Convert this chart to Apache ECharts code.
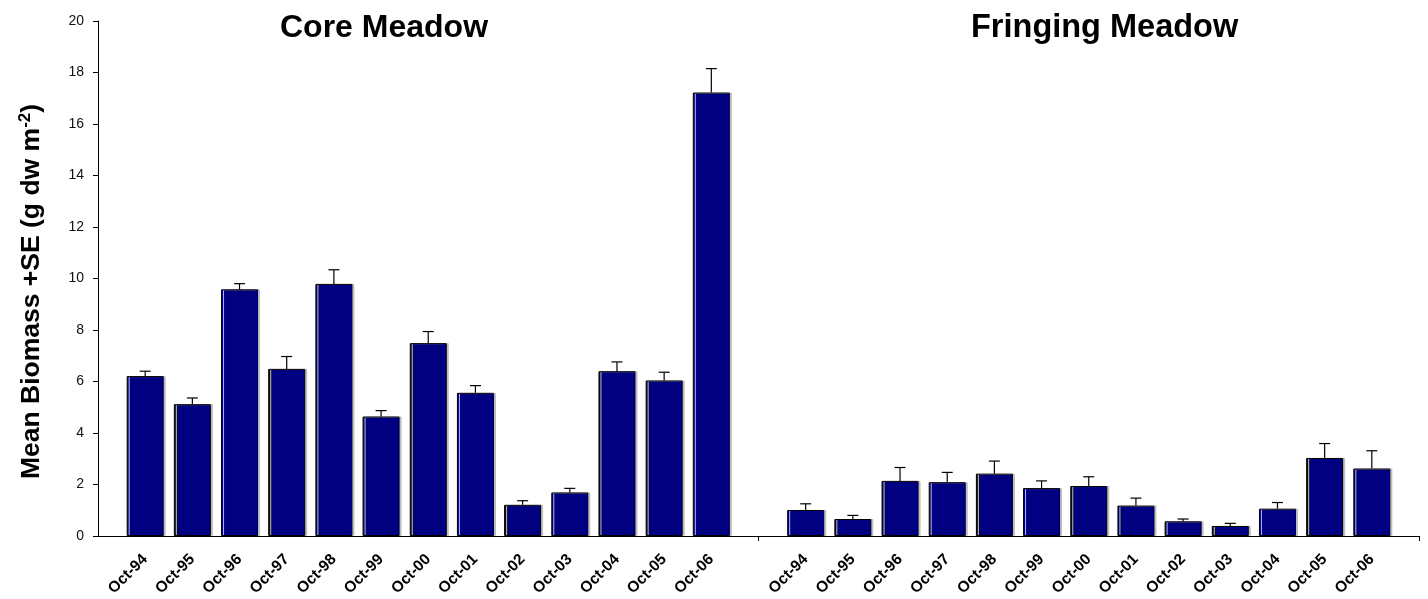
<!DOCTYPE html>
<html>
<head>
<meta charset="utf-8">
<script src="https://cdn.jsdelivr.net/npm/echarts@6/dist/echarts.min.js"></script>
<style>
  html, body { margin: 0; padding: 0; background: #fff; }
  #chart { width: 1428px; height: 599px; }
</style>
</head>
<body>
<div id="chart"></div>
<script>
// values
const years = ['Oct-94', 'Oct-95', 'Oct-96', 'Oct-97', 'Oct-98', 'Oct-99', 'Oct-00',
  'Oct-01', 'Oct-02', 'Oct-03', 'Oct-04', 'Oct-05', 'Oct-06'];
const coreMean = [6.21, 5.12, 9.58, 6.49, 9.79, 4.64, 7.49, 5.56, 1.21, 1.69, 6.40, 6.04, 17.22];
const coreSE = [0.19, 0.24, 0.22, 0.48, 0.55, 0.23, 0.45, 0.28, 0.16, 0.16, 0.36, 0.32, 0.93];
const fringeMean = [1.01, 0.66, 2.14, 2.09, 2.42, 1.86, 1.94, 1.18, 0.57, 0.39, 1.06, 3.03, 2.62];
const fringeSE = [0.24, 0.14, 0.52, 0.38, 0.49, 0.28, 0.36, 0.29, 0.09, 0.10, 0.24, 0.56, 0.69];
const yTicks = [0, 2, 4, 6, 8, 10, 12, 14, 16, 18, 20];

// axis points: blank, core years, blank (group divider), fringing years, blank
const categories = [''].concat(years, [''], years, ['']);
const means = [null].concat(coreMean, [null], fringeMean, [null]);
const ses = [null].concat(coreSE, [null], fringeSE, [null]);
const errData = means.map((m, i) => m == null ? null : [i, m, m + ses[i]]).filter(d => d);

const chart = echarts.init(document.getElementById('chart'));
chart.setOption({
  animation: false,
  textStyle: { fontFamily: 'Arial, "Liberation Sans", sans-serif' },
  title: [
    { text: 'Core Meadow', left: 275, top: 7,
      textStyle: { fontSize: 32, fontWeight: 'bold', color: '#000' } },
    { text: 'Fringing Meadow', left: 966, top: 7,
      textStyle: { fontSize: 32.5, fontWeight: 'bold', color: '#000' } }
  ],
  grid: { left: 98, right: 9, top: 21, bottom: 63 },
  xAxis: {
    type: 'category',
    data: categories,
    boundaryGap: false,
    axisLine: { lineStyle: { color: '#000', width: 1 } },
    axisTick: {
      show: true,
      interval: (idx) => idx === 14 || idx === 28,
      length: 5,
      lineStyle: { color: '#000' }
    },
    axisLabel: {
      interval: 0,
      rotate: 45,
      margin: 21,
      padding: [14, 0, 0, 0],
      color: '#000',
      fontSize: 15.5,
      fontWeight: 'bold'
    }
  },
  yAxis: {
    type: 'value',
    min: yTicks[0],
    max: yTicks[yTicks.length - 1],
    interval: 2,
    name: 'Mean Biomass +SE (g dw m{sup|-2})',
    nameLocation: 'middle',
    nameGap: 52,
    nameTextStyle: {
      fontSize: 26.5,
      fontWeight: 'bold',
      color: '#000',
      padding: [0, 26, 0, 0],
      rich: { sup: { fontSize: 17, fontWeight: 'bold', color: '#000', verticalAlign: 'top', padding: [0, 0, 12, 0] } }
    },
    axisLine: { show: true, lineStyle: { color: '#000' } },
    axisTick: { show: true, length: 5, lineStyle: { color: '#000' } },
    splitLine: { show: false },
    axisLabel: { color: '#111', fontSize: 14, margin: 14 }
  },
  series: [
    {
      type: 'bar',
      data: means,
      barWidth: 37,
      itemStyle: {
        color: '#000080',
        borderColor: '#000',
        borderWidth: 1,
        shadowColor: '#bdbdbd',
        shadowOffsetX: 2,
        shadowOffsetY: 0,
        shadowBlur: 0
      },
      z: 2
    },
    {
      type: 'custom',
      data: errData,
      z: 3,
      renderItem: function (params, api) {
        const x = api.value(0);
        const lo = api.coord([x, api.value(1)]);
        const hi = api.coord([x, api.value(2)]);
        const half = 5.5;
        const style = { stroke: '#000', lineWidth: 1.2 };
        return {
          type: 'group',
          children: [
            { type: 'line', shape: { x1: lo[0], y1: lo[1], x2: hi[0], y2: hi[1] }, style: style },
            { type: 'line', shape: { x1: hi[0] - half, y1: hi[1], x2: hi[0] + half, y2: hi[1] }, style: style }
          ]
        };
      }
    }
  ]
});
</script>
</body>
</html>
